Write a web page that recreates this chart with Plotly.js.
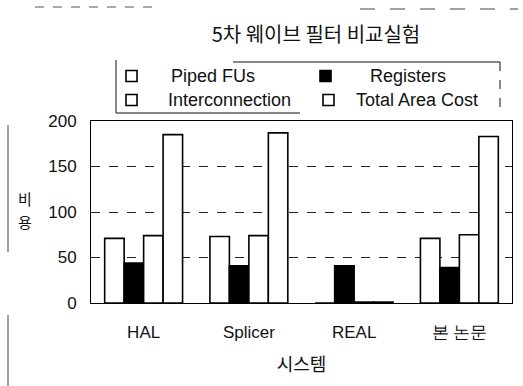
<!DOCTYPE html>
<html>
<head>
<meta charset="utf-8">
<script src="https://cdn.plot.ly/plotly-3.0.1.min.js"></script>
<style>html,body{margin:0;padding:0;background:#fff;}#chart{width:523px;height:386px;}</style>
</head>
<body>
<div id="chart"></div>
<script>
// ---- data ----
var categories = ["HAL", "Splicer", "REAL", "본 논문"];
var seriesNames = ["Piped FUs", "Registers", "Interconnection", "Total Area Cost"];
var pipedFUs = [71, 73, 0, 71];
var registers = [44, 41, 41, 39];
var interconnection = [74, 74, 1, 75];
var totalAreaCost = [185, 187, 1, 183];
var yTickVals = [0, 50, 100, 150, 200];
var chartTitle = "5차 웨이브 필터 비교실험";
var xTitle = "시스템";
var yTitleChars = ["비", "용"];

// ---- geometry helpers (pixel -> paper) ----
var L = 91, T = 121, W = 421, H = 182;
function px(x) { return (x - L) / W; }
function py(y) { return (T + H - y) / H; }

var fills = ["#ffffff", "#000000", "#ffffff", "#ffffff"];
var seriesData = [pipedFUs, registers, interconnection, totalAreaCost];

var traces = seriesData.map(function (vals, i) {
  return {
    type: "bar",
    name: seriesNames[i],
    x: categories,
    y: vals,
    marker: { color: fills[i], line: { color: "#000", width: 1.6 } },
    showlegend: false,
    hoverinfo: "skip"
  };
});

var latin = "Arial, 'Liberation Sans', sans-serif";
var korean = "'Noto Sans CJK KR', sans-serif";

// custom legend: two columns, two rows
var legendPos = [
  { mx: 126, my: 76, tx: 213, ty: 76 },
  { mx: 320, my: 76, tx: 408, ty: 76 },
  { mx: 126, my: 100, tx: 229, ty: 100 },
  { mx: 323, my: 100, tx: 417, ty: 100 }
];
var shapes = [];
var annotations = [];
legendPos.forEach(function (p, i) {
  shapes.push({
    type: "rect", xref: "paper", yref: "paper",
    x0: px(p.mx), x1: px(p.mx + 11), y0: py(p.my - 5.5), y1: py(p.my + 5.5),
    fillcolor: fills[i], line: { color: "#000", width: 1.6 }
  });
  annotations.push({
    xref: "paper", yref: "paper", x: px(p.tx), y: py(p.ty),
    xanchor: "center", yanchor: "middle", showarrow: false,
    text: seriesNames[i], font: { family: latin, size: 18, color: "#111" }
  });
});
// legend frame (partially broken, as in the scan)
function seg(x0, y0, x1, y1, w, dash, col) {
  shapes.push({ type: "line", xref: "paper", yref: "paper",
    x0: px(x0), y0: py(y0), x1: px(x1), y1: py(y1),
    line: { color: col || "#111", width: w || 1, dash: dash || "solid" } });
}
seg(116, 60, 116, 113);
seg(116, 113, 300, 113);
seg(233, 62, 500, 62);
seg(500, 62, 500, 113, 1, "dash");
// scan artifacts
seg(35, 7, 160, 7, 1, "dash", "#555");
seg(360, 9, 518, 9, 1, "longdash", "#444");
seg(8, 125, 8, 252, 1, "solid", "#444");
seg(8, 315, 8, 386, 1, "solid", "#444");

// y-axis title (stacked characters)
yTitleChars.forEach(function (ch, i) {
  annotations.push({
    xref: "paper", yref: "paper", x: px(25), y: py(198 + i * 23),
    xanchor: "center", yanchor: "middle", showarrow: false, borderpad: 0,
    text: ch, font: { family: korean, size: 15, color: "#111" }
  });
});

var layout = {
  width: 523, height: 386,
  margin: { l: L, r: 523 - L - W, t: T, b: 386 - T - H, pad: 0 },
  paper_bgcolor: "#fff", plot_bgcolor: "#fff",
  title: {
    text: chartTitle,
    font: { family: korean, size: 20, color: "#111" },
    xref: "paper", x: px(316), xanchor: "center",
    yref: "container", y: 1 - 35 / 386, yanchor: "middle"
  },
  barmode: "group",
  bargap: 0.26,
  bargroupgap: 0,
  xaxis: {
    type: "category",
    range: [-0.5, 3.5],
    showline: true, mirror: true, linecolor: "#000", linewidth: 1,
    ticks: "", showgrid: false,
    tickfont: { family: latin, size: 17, color: "#111" },
    ticklabelstandoff: 14,
    title: { text: xTitle, font: { family: korean, size: 18, color: "#111" }, standoff: 16 }
  },
  yaxis: {
    range: [0, 200],
    tickvals: yTickVals,
    showline: true, mirror: true, linecolor: "#000", linewidth: 1,
    ticks: "", zeroline: false,
    showgrid: true, gridcolor: "#222", gridwidth: 1, griddash: "dash",
    tickfont: { family: latin, size: 17, color: "#111" },
    ticklabelstandoff: 10
  },
  shapes: shapes,
  annotations: annotations
};

Plotly.newPlot("chart", traces, layout, { staticPlot: true, displayModeBar: false });
</script>
</body>
</html>
